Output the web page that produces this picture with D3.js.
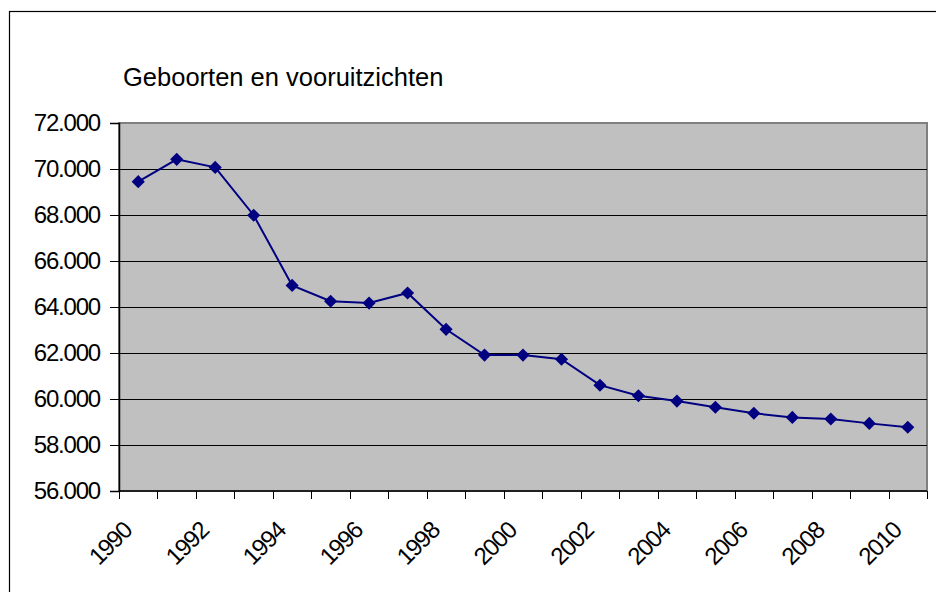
<!DOCTYPE html>
<html>
<head>
<meta charset="utf-8">
<script src="https://cdn.jsdelivr.net/npm/d3@7"></script>
<style>
  body { margin: 0; background: #fff; }
  svg text { font-family: "Liberation Sans", Arial, sans-serif; fill: #000; }
</style>
</head>
<body>
<div id="chart"></div>
<script>
// Data
const years = ["1990", "1991", "1992", "1993", "1994", "1995", "1996", "1997", "1998", "1999", "2000",
    "2001", "2002", "2003", "2004", "2005", "2006", "2007", "2008", "2009", "2010"];
const births = [69450, 70420, 70070, 67990, 64940, 64250, 64170, 64610, 63030, 61910, 61910,
    61730, 60600, 60140, 59910, 59640, 59380, 59200, 59130, 58940, 58770];
const yTicks = [56000, 58000, 60000, 62000, 64000, 66000, 68000, 70000, 72000];
const title = "Geboorten en vooruitzichten";

const W = 936, H = 592;
const plot = { left: 119, right: 927, top: 123, bottom: 491 };

const svg = d3.select("#chart").append("svg")
    .attr("width", W)
    .attr("height", H);

// Outer chart frame
svg.append("rect")
    .attr("x", 9.5).attr("y", 11.5)
    .attr("width", 960).attr("height", 620)
    .attr("fill", "#fff")
    .attr("stroke", "#000")
    .attr("stroke-width", 1.2);

// Title
svg.append("text")
    .attr("x", 123)
    .attr("y", 86)
    .style("font-size", "25.5px")
    .text(title);

// Scales
const x = d3.scaleBand()
    .domain(years)
    .range([plot.left, plot.right]);

const y = d3.scaleLinear()
    .domain([56000, 72000])
    .range([plot.bottom, plot.top]);

// Plot background
svg.append("rect")
    .attr("x", plot.left).attr("y", plot.top)
    .attr("width", plot.right - plot.left)
    .attr("height", plot.bottom - plot.top)
    .attr("fill", "#c0c0c0")
    .attr("stroke", "#808080")
    .attr("stroke-width", 2);

// Gridlines
svg.append("g")
    .selectAll("line")
    .data(yTicks.filter(d => d > 56000 && d < 72000))
    .enter()
    .append("line")
    .attr("x1", plot.left).attr("x2", plot.right)
    .attr("y1", d => Math.round(y(d)) + 0.5)
    .attr("y2", d => Math.round(y(d)) + 0.5)
    .attr("stroke", "#000")
    .attr("stroke-width", 1);

// Y axis
const yAxis = svg.append("g")
    .attr("transform", "translate(" + plot.left + ",0)")
    .call(d3.axisLeft(y)
        .tickValues(yTicks)
        .tickSize(9)
        .tickPadding(10)
        .tickFormat(d => d3.format(",")(d).replace(/,/g, ".")));
yAxis.select(".domain").attr("stroke", "#000").attr("stroke-width", 1.5);
yAxis.selectAll(".tick line").attr("stroke", "#000");
yAxis.selectAll("text")
    .style("font-size", "24px")
    .style("letter-spacing", "-1.2px")
    .attr("font-family", null);

// X axis with ticks on category boundaries
const xAxis = svg.append("g")
    .attr("transform", "translate(0," + plot.bottom + ")");
xAxis.append("line")
    .attr("x1", plot.left).attr("x2", plot.right)
    .attr("y1", 0).attr("y2", 0)
    .attr("stroke", "#000").attr("stroke-width", 1.5);
const bounds = years.map(d => x(d)).concat([plot.right]);
xAxis.selectAll(".xtick")
    .data(bounds)
    .enter()
    .append("line")
    .attr("class", "xtick")
    .attr("x1", d => Math.round(d) + 0.5).attr("x2", d => Math.round(d) + 0.5)
    .attr("y1", 0).attr("y2", 8)
    .attr("stroke", "#000");

xAxis.selectAll(".xlabel")
    .data(years.filter((d, i) => i % 2 === 0))
    .enter()
    .append("text")
    .attr("class", "xlabel")
    .attr("transform", d => "translate(" + (x(d) + x.bandwidth() / 2 - 5) + ",41) rotate(-45)")
    .style("text-anchor", "end")
    .style("font-size", "24px")
    .style("letter-spacing", "-1.2px")
    .text(d => d);

// Line
const points = years.map((d, i) => ({ year: d, value: births[i] }));
const line = d3.line()
    .x(d => x(d.year) + x.bandwidth() / 2)
    .y(d => y(d.value));

svg.append("path")
    .datum(points)
    .attr("d", line)
    .attr("fill", "none")
    .attr("stroke", "#000080")
    .attr("stroke-width", 2);

// Diamond markers
svg.append("g")
    .selectAll("path")
    .data(points)
    .enter()
    .append("path")
    .attr("transform", d => "translate(" + (x(d.year) + x.bandwidth() / 2) + "," + y(d.value) + ")")
    .attr("d", d3.symbol().type(d3.symbolDiamond2).size(110))
    .attr("fill", "#000080");
</script>
</body>
</html>
